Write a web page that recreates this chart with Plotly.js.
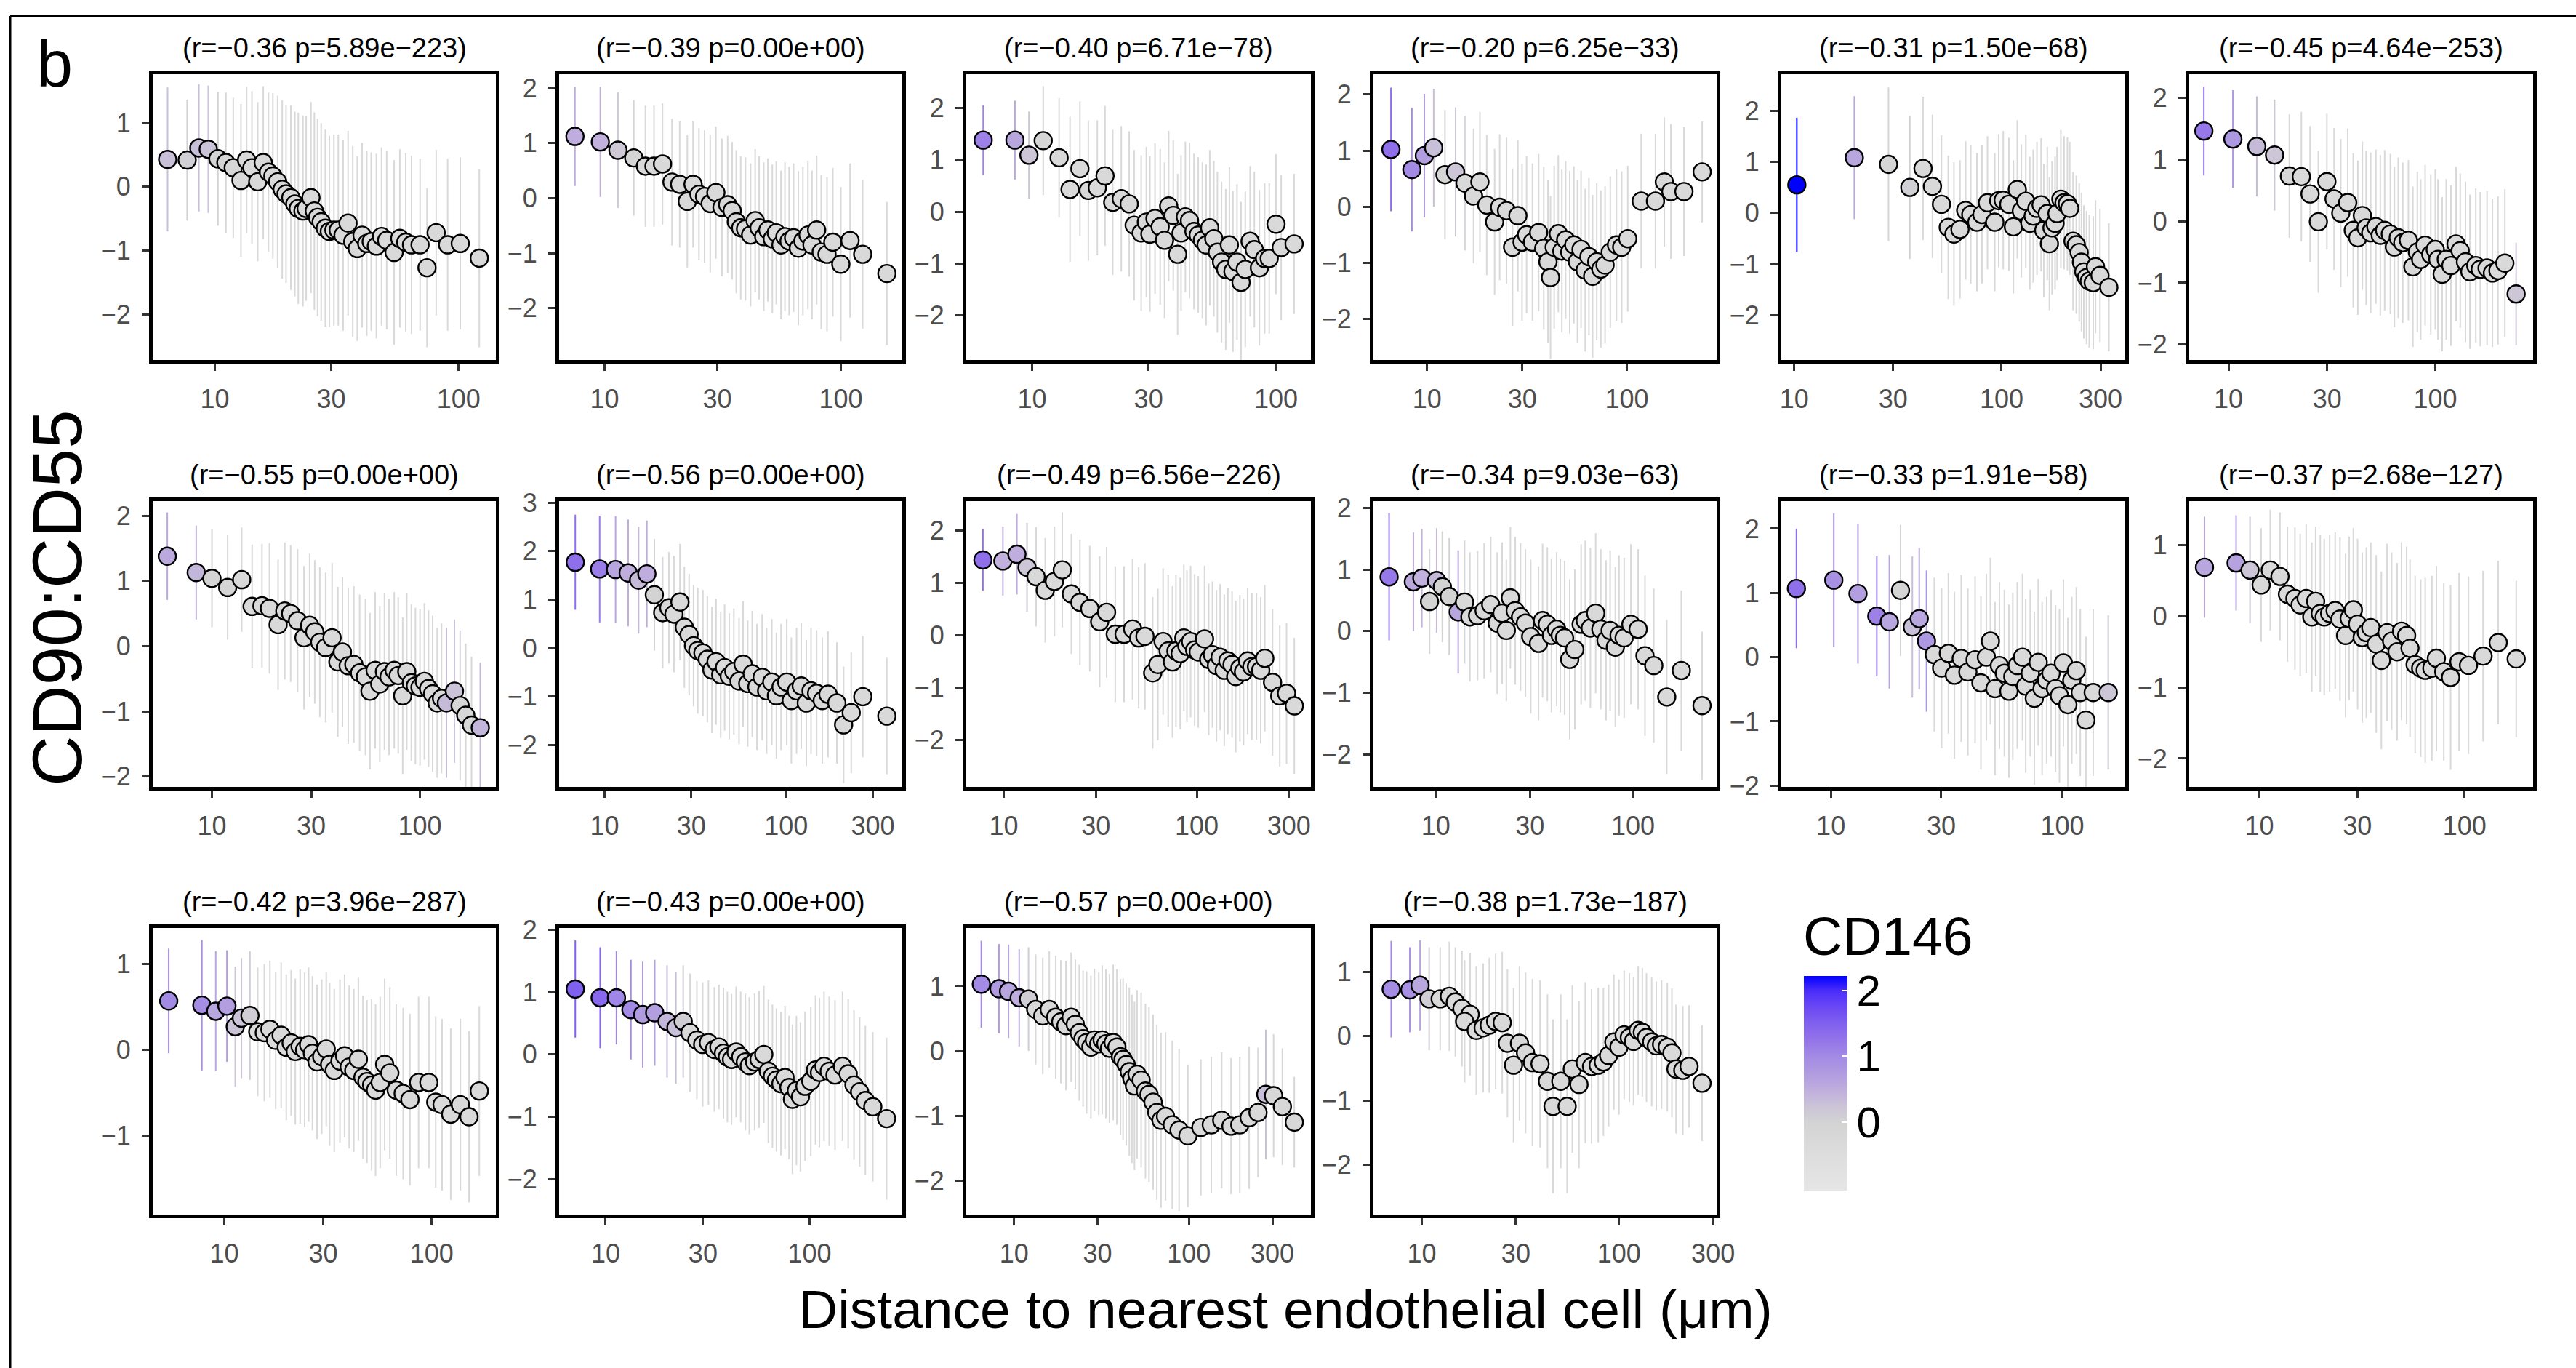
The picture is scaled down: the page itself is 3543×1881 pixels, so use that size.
<!DOCTYPE html>
<html><head><meta charset="utf-8">
<script src="https://cdn.plot.ly/plotly-3.0.1.min.js"></script>
<style>html,body{margin:0;padding:0;background:#fff;}#chart{width:3543px;height:1881px;}</style>
</head><body><div id="chart"></div>
<script>
// ---------- DATA (distance in µm, CD90:CD55 mean, SD, CD146 mean) ----------
const titles = ["(r=\u22120.36 p=5.89e\u2212223)","(r=\u22120.39 p=0.00e+00)","(r=\u22120.40 p=6.71e\u221278)","(r=\u22120.20 p=6.25e\u221233)","(r=\u22120.31 p=1.50e\u221268)","(r=\u22120.45 p=4.64e\u2212253)",
"(r=\u22120.55 p=0.00e+00)","(r=\u22120.56 p=0.00e+00)","(r=\u22120.49 p=6.56e\u2212226)","(r=\u22120.34 p=9.03e\u221263)","(r=\u22120.33 p=1.91e\u221258)","(r=\u22120.37 p=2.68e\u2212127)",
"(r=\u22120.42 p=3.96e\u2212287)","(r=\u22120.43 p=0.00e+00)","(r=\u22120.57 p=0.00e+00)","(r=\u22120.38 p=1.73e\u2212187)"];

const p1x=[6.4,7.7,8.6,9.4,10.3,11.1,11.9,12.8,13.5,14.2,15.0,15.8,16.6,17.3,18.1,18.9,19.6,20.5,21.3,22.0,23.0,23.7,24.8,25.6,26.4,27.3,28.4,29.5,30.8,32.1,33.6,35.2,36.8,38.4,40.2,42.0,43.8,46.0,48.3,50.7,54.4,57.4,60.7,64.1,69.5,74.2,80.9,90.2,101.6,121.6];
const p1y=[0.43,0.42,0.61,0.59,0.44,0.38,0.30,0.10,0.42,0.30,0.08,0.38,0.23,0.17,0.08,-0.04,-0.11,-0.17,-0.27,-0.34,-0.38,-0.34,-0.17,-0.38,-0.48,-0.55,-0.65,-0.70,-0.68,-0.68,-0.76,-0.57,-0.86,-0.97,-0.76,-0.89,-0.86,-0.93,-0.78,-0.84,-1.03,-0.81,-0.87,-0.91,-0.91,-1.27,-0.72,-0.91,-0.89,-1.12];
const p1sd=[1.13,0.95,1.0,1.0,1.05,1.1,1.1,1.2,1.15,1.2,1.25,1.2,1.25,1.3,1.35,1.4,1.4,1.45,1.45,1.5,1.5,1.45,1.5,1.55,1.55,1.55,1.55,1.5,1.5,1.5,1.5,1.45,1.5,1.45,1.45,1.45,1.4,1.45,1.4,1.4,1.45,1.4,1.4,1.4,1.35,1.25,1.3,1.35,1.35,1.4];
const p1c=[0.3,0.05,0.3,0.25,0.0,-0.1,-0.2,-0.3,-0.3,-0.3,
-0.3,-0.3,-0.3,-0.3,-0.3,-0.3,-0.3,-0.3,-0.3,-0.3,
-0.3,-0.3,-0.3,-0.3,-0.3,-0.3,-0.3,-0.3,-0.3,-0.3,
-0.3,-0.3,-0.3,-0.3,-0.3,-0.3,-0.3,-0.3,-0.3,-0.3,
-0.3,-0.3,-0.3,-0.3,-0.3,-0.3,-0.3,-0.3,-0.3,-0.3];

const p2x=[7.5,9.6,11.4,13.3,14.9,16.2,17.6,19.3,20.8,22.4,23.7,25.1,26.5,28.0,29.6,31.4,33.2,34.7,36.1,37.7,39.5,41.5,43.4,45.1,47.2,49.1,51.3,53.3,55.8,58.0,60.4,63.1,66.1,69.1,72.6,75.5,79.0,82.6,87.4,92.5,100,109.4,123.7,156.6];
const p2y=[1.12,1.02,0.87,0.73,0.58,0.58,0.62,0.29,0.25,-0.06,0.25,0.07,0.03,-0.10,0.10,-0.17,-0.12,-0.23,-0.43,-0.54,-0.56,-0.67,-0.41,-0.54,-0.70,-0.58,-0.74,-0.63,-0.85,-0.70,-0.78,-0.72,-0.91,-0.78,-0.67,-0.85,-0.58,-0.98,-1.02,-0.80,-1.20,-0.77,-1.02,-1.37];
const p2sd=[0.9,1.0,1.05,1.05,1.1,1.1,1.1,1.15,1.15,1.2,1.15,1.2,1.2,1.25,1.2,1.25,1.25,1.25,1.3,1.3,1.3,1.3,1.3,1.3,1.35,1.3,1.35,1.3,1.35,1.35,1.35,1.35,1.4,1.35,1.35,1.35,1.35,1.4,1.4,1.35,1.4,1.4,1.35,1.3];
const p2c=[0.5,0.45,0.15,-0.1,-0.3,-0.3,-0.3,-0.3,-0.3,-0.3,
-0.3,-0.3,-0.3,-0.3,-0.3,-0.3,-0.3,-0.3,-0.3,-0.3,
-0.3,-0.3,-0.3,-0.3,-0.3,-0.3,-0.3,-0.3,-0.3,-0.3,
-0.3,-0.3,-0.3,-0.3,-0.3,-0.3,-0.3,-0.3,-0.3,-0.3,
-0.3,-0.3,-0.3,-0.3];

const p3x=[6.3,8.5,9.7,11.1,12.9,14.3,15.7,17.0,18.5,19.9,21.4,23.2,25.0,26.2,28.0,29.4,30.4,31.9,33.5,34.9,36.3,37.9,39.5,40.8,42.5,44.2,46.1,48.0,49.9,51.7,53.5,55.6,57.5,59.8,62.2,64.4,66.6,69.2,71.9,74.8,78.3,81.5,85.5,89.8,93.8,100,105,118.6];
const p3y=[1.38,1.38,1.09,1.37,1.04,0.43,0.83,0.41,0.46,0.69,0.18,0.25,0.15,-0.26,-0.41,-0.20,-0.43,-0.13,-0.29,-0.55,0.11,-0.07,-0.82,-0.41,-0.10,-0.17,-0.38,-0.45,-0.55,-0.64,-0.31,-0.52,-0.78,-0.97,-1.11,-0.64,-1.15,-0.97,-1.36,-1.11,-0.57,-0.73,-1.08,-0.90,-0.90,-0.24,-0.69,-0.62];
const p3sd=[0.67,0.76,0.84,1.05,1.15,1.4,1.3,1.35,1.3,1.35,1.4,1.4,1.4,1.45,1.5,1.45,1.5,1.45,1.5,1.5,1.45,1.45,1.55,1.5,1.45,1.5,1.5,1.5,1.5,1.55,1.5,1.5,1.55,1.55,1.55,1.5,1.55,1.5,1.55,1.5,1.45,1.5,1.5,1.45,1.45,1.35,1.4,1.35];
const p3c=[1.1,0.6,0.2,-0.1,-0.3,-0.3,-0.3,-0.3,-0.3,-0.3,
-0.3,-0.3,-0.3,-0.3,-0.3,-0.3,-0.3,-0.3,-0.3,-0.3,
-0.3,-0.3,-0.3,-0.3,-0.3,-0.3,-0.3,-0.3,-0.3,-0.3,
-0.3,-0.3,-0.3,-0.3,-0.3,-0.3,-0.3,-0.3,-0.3,-0.3,
-0.3,-0.3,-0.3,-0.3,-0.3,-0.3,-0.3,-0.3];

const p4x=[6.6,8.4,9.7,10.8,12.3,13.9,15.5,17.1,18.4,19.9,21.8,23.1,25.0,26.8,28.5,29.9,31.5,33.7,36.2,38.4,40.3,41.5,43.3,45.4,47.3,49.4,51.8,54.3,56.6,59.0,61.9,64.6,67.4,70.7,74.1,77.8,82.6,88.7,94.2,101,118,139,154,166,193,238];
const p4y=[1.02,0.66,0.91,1.05,0.57,0.62,0.42,0.19,0.44,0.03,-0.27,-0.01,-0.07,-0.72,-0.16,-0.63,-0.50,-0.63,-0.46,-0.74,-0.98,-1.26,-0.72,-0.48,-0.79,-0.59,-0.81,-0.68,-0.98,-0.76,-1.13,-0.89,-1.24,-0.98,-1.11,-1.04,-0.81,-0.68,-0.72,-0.57,0.10,0.10,0.44,0.27,0.27,0.62];
const p4sd=[1.1,1.1,1.1,1.05,1.15,1.15,1.2,1.2,1.25,1.25,1.3,1.3,1.3,1.4,1.35,1.4,1.4,1.4,1.4,1.45,1.45,1.45,1.45,1.4,1.45,1.4,1.45,1.4,1.45,1.4,1.45,1.4,1.45,1.4,1.4,1.4,1.35,1.35,1.35,1.3,1.2,1.2,1.15,1.2,1.15,0.9];
const p4c=[1.3,1.0,0.7,0.3,-0.1,0.2,-0.3,-0.3,-0.3,-0.3,
-0.3,-0.3,-0.3,-0.3,-0.3,-0.3,-0.3,-0.3,-0.3,-0.3,
-0.3,-0.3,-0.3,-0.3,-0.3,-0.3,-0.3,-0.3,-0.3,-0.3,
-0.3,-0.3,-0.3,-0.3,-0.3,-0.3,-0.3,-0.3,-0.3,-0.3,
-0.3,-0.3,-0.3,-0.3,-0.3,-0.3];

const p5x=[10.3,19.5,28.5,36.1,41.8,46.4,51.3,55.3,58.9,63.0,67.1,71.0,76.0,80.4,85.5,92.7,96.8,101.8,108.4,114,119,124.5,130.8,136.8,142,148,155,159.7,166,170,175,181,185,193,200,207.6,213,221,229,236.6,242.6,249,256.6,264.6,276.6,283.6,298,329];
const p5y=[0.55,1.08,0.95,0.50,0.87,0.52,0.17,-0.28,-0.41,-0.32,0.05,-0.03,-0.18,-0.03,0.20,-0.18,0.24,0.25,0.17,-0.27,0.46,0.04,0.23,-0.20,-0.06,0.09,0.16,-0.34,-0.01,-0.60,-0.29,-0.20,-0.01,0.27,0.20,0.18,0.09,-0.55,-0.62,-0.77,-0.96,-1.15,-1.26,-1.33,-1.36,-1.05,-1.22,-1.45];
const p5sd=[1.31,1.2,1.5,1.4,1.4,1.4,1.35,1.4,1.4,1.35,1.35,1.35,1.35,1.35,1.3,1.35,1.3,1.35,1.3,1.3,1.35,1.3,1.3,1.3,1.3,1.3,1.3,1.3,1.3,1.3,1.3,1.3,1.3,1.35,1.3,1.3,1.3,1.35,1.35,1.35,1.35,1.3,1.3,1.3,1.3,1.3,1.3,1.25];
const p5c=[2.25,0.6,-0.1,0.05,-0.3,-0.3,-0.3,-0.3,-0.3,-0.3,
-0.3,-0.3,-0.3,-0.3,-0.3,-0.3,-0.3,-0.3,-0.3,-0.3,
-0.3,-0.3,-0.3,-0.3,-0.3,-0.3,-0.3,-0.3,-0.3,-0.3,
-0.3,-0.3,-0.3,-0.3,-0.3,-0.3,-0.3,-0.3,-0.3,-0.3,
-0.3,-0.3,-0.3,-0.3,-0.3,-0.3,-0.3,-0.3];

const p6x=[7.6,10.5,13.7,16.7,19.7,22.5,24.8,27.2,29.9,32.4,34.9,37.7,40.1,42.2,44.4,46.3,48.7,51.6,54.2,56.9,60.6,63.4,66.2,69.6,74.1,77.9,81.9,85.0,89.3,95.1,100,103,108,113,119,126,132,140,147,157,165,178,189,201,217,246];
const p6y=[1.46,1.33,1.21,1.07,0.73,0.72,0.44,-0.01,0.64,0.36,0.13,0.30,-0.15,-0.27,0.09,-0.11,-0.19,-0.09,-0.23,-0.15,-0.21,-0.42,-0.27,-0.35,-0.31,-0.74,-0.50,-0.62,-0.39,-0.54,-0.46,-0.62,-0.86,-0.62,-0.72,-0.37,-0.48,-0.66,-0.82,-0.72,-0.78,-0.76,-0.84,-0.80,-0.68,-1.18];
const p6sd=[0.72,0.79,0.81,0.9,1.0,1.05,1.1,1.15,1.1,1.15,1.2,1.2,1.25,1.25,1.2,1.25,1.3,1.25,1.3,1.3,1.3,1.3,1.3,1.3,1.3,1.3,1.3,1.3,1.3,1.3,1.3,1.3,1.25,1.3,1.3,1.25,1.25,1.3,1.25,1.25,1.25,1.25,1.2,1.2,1.2,0.83];
const p6c=[1.2,0.8,0.35,0.2,-0.2,-0.3,-0.3,-0.3,-0.3,-0.3,
-0.3,-0.3,-0.3,-0.3,-0.3,-0.3,-0.3,-0.3,-0.3,-0.3,
-0.3,-0.3,-0.3,-0.3,-0.3,-0.3,-0.3,-0.3,-0.3,-0.3,
-0.3,-0.3,-0.3,-0.3,-0.3,-0.3,-0.3,-0.3,-0.3,-0.3,
-0.3,-0.3,-0.3,-0.3,-0.3,0.2];

const p7x=[6.1,8.4,10.0,11.9,13.9,15.6,17.4,18.9,20.8,22.4,23.9,25.8,27.7,29.5,31.2,33.0,35.2,37.8,40.3,42.4,45.2,48.1,51.3,54.7,57.5,60.9,64.1,67.5,71.0,75.2,78.6,82.6,86.4,90.9,95.1,100,105,110,115,121,127,134,146.5,156,166,177,195];
const p7y=[1.38,1.13,1.04,0.90,1.02,0.61,0.62,0.58,0.33,0.54,0.50,0.39,0.13,0.32,0.22,0.06,-0.02,0.13,-0.24,-0.09,-0.30,-0.28,-0.41,-0.47,-0.69,-0.37,-0.58,-0.39,-0.47,-0.37,-0.45,-0.76,-0.39,-0.56,-0.61,-0.63,-0.54,-0.65,-0.73,-0.87,-0.80,-0.87,-0.69,-0.91,-1.06,-1.21,-1.25];
const p7sd=[0.67,0.72,0.75,0.8,0.8,0.95,0.95,1.0,1.0,1.05,1.05,1.1,1.1,1.1,1.1,1.15,1.15,1.15,1.15,1.15,1.2,1.2,1.2,1.2,1.2,1.2,1.2,1.2,1.2,1.2,1.2,1.2,1.2,1.2,1.2,1.2,1.2,1.2,1.2,1.15,1.15,1.15,1.1,1.15,1.1,1.05,1.0];
const p7c=[0.55,0.4,0.0,-0.1,-0.3,-0.3,-0.3,-0.3,-0.3,-0.3,
-0.3,-0.3,-0.3,-0.3,-0.3,-0.3,-0.3,-0.3,-0.3,-0.3,
-0.3,-0.3,-0.3,-0.3,-0.3,-0.3,-0.3,-0.3,-0.3,-0.3,
-0.3,-0.3,-0.3,-0.3,-0.3,-0.3,-0.3,-0.3,-0.3,-0.3,
-0.3,0.35,0.25,-0.2,-0.2,-0.2,0.4];

const p8x=[6.9,9.4,11.5,13.5,15.4,17.1,18.8,20.9,22.6,24.1,26.0,27.5,29.2,30.9,32.6,34.8,36.8,39.0,41.1,43.6,45.8,48.6,51.5,55.0,57.9,61.4,65.0,69.0,73.7,78.0,83.3,88.3,93.7,100.7,106.7,114,121,129,137,147,158,170,190,207,228,264,358];
const p8y=[1.77,1.63,1.62,1.55,1.40,1.53,1.10,0.73,0.83,0.70,0.95,0.43,0.28,0.05,-0.05,-0.10,-0.23,-0.45,-0.28,-0.55,-0.40,-0.58,-0.48,-0.68,-0.33,-0.73,-0.53,-0.80,-0.60,-0.88,-0.70,-0.98,-0.80,-0.70,-1.08,-0.88,-0.78,-1.13,-0.88,-0.93,-1.08,-0.95,-1.13,-1.58,-1.33,-1.00,-1.40];
const p8sd=[0.98,1.1,1.1,1.1,1.1,1.1,1.15,1.15,1.15,1.2,1.2,1.25,1.25,1.25,1.3,1.3,1.3,1.3,1.3,1.3,1.3,1.3,1.3,1.3,1.3,1.3,1.3,1.3,1.3,1.3,1.3,1.3,1.3,1.3,1.3,1.3,1.3,1.3,1.3,1.3,1.3,1.3,1.25,1.2,1.25,1.25,1.2];
const p8c=[1.3,1.15,0.6,0.5,0.35,0.5,0.0,-0.3,-0.3,-0.3,
-0.3,-0.3,-0.3,-0.3,-0.3,-0.3,-0.3,-0.3,-0.3,-0.3,
-0.3,-0.3,-0.3,-0.3,-0.3,-0.3,-0.3,-0.3,-0.3,-0.3,
-0.3,-0.3,-0.3,-0.3,-0.3,-0.3,-0.3,-0.3,-0.3,-0.3,
-0.3,-0.3,-0.3,-0.3,-0.3,-0.3,-0.3];

const p9x=[7.8,9.9,11.7,13.2,14.7,16.4,18.3,20.1,22.4,24.8,27.9,31.4,34.1,37.8,42.0,46.5,50.0,53.9,59.1,62.9,66.9,71.1,74.8,78.0,82.0,85.7,88.9,92.9,97.5,101.8,109.7,115.3,120.5,126.5,132.1,138.8,144.9,152.3,159.1,167.2,174.6,183.4,192.8,203.8,214.4,225,246.8,269,291.7,320];
const p9y=[1.44,1.42,1.55,1.30,1.12,0.86,1.03,1.25,0.79,0.63,0.51,0.26,0.44,0.02,0.02,0.12,-0.05,-0.02,-0.72,-0.56,-0.12,-0.30,-0.51,-0.30,-0.35,-0.05,-0.21,-0.12,-0.28,-0.32,-0.07,-0.46,-0.37,-0.58,-0.42,-0.67,-0.49,-0.56,-0.79,-0.63,-0.70,-0.49,-0.60,-0.60,-0.67,-0.44,-0.90,-1.16,-1.11,-1.35];
const p9sd=[0.59,0.66,0.77,0.85,0.95,1.0,1.05,1.1,1.15,1.2,1.2,1.25,1.25,1.3,1.3,1.35,1.35,1.4,1.45,1.45,1.4,1.45,1.45,1.45,1.45,1.4,1.45,1.45,1.45,1.45,1.4,1.45,1.4,1.45,1.4,1.45,1.4,1.4,1.45,1.4,1.4,1.4,1.4,1.4,1.4,1.4,1.4,1.35,1.35,1.3];
const p9c=[1.3,0.45,0.5,0.2,-0.3,-0.3,-0.3,-0.3,-0.3,-0.3,
-0.3,-0.3,-0.3,-0.3,-0.3,-0.3,-0.3,-0.3,-0.3,-0.3,
-0.3,-0.3,-0.3,-0.3,-0.3,-0.3,-0.3,-0.3,-0.3,-0.3,
-0.3,-0.3,-0.3,-0.3,-0.3,-0.3,-0.3,-0.3,-0.3,-0.3,
-0.3,-0.3,-0.3,-0.3,-0.3,-0.3,-0.3,-0.3,-0.3,-0.3];

const p10x=[5.8,7.7,8.5,9.3,10.1,10.8,11.7,13.0,14.0,14.9,16.3,17.6,19.0,20.5,21.7,22.8,23.9,25.3,26.9,28.5,30.3,33.2,34.8,36.8,38.6,41.0,42.8,45.0,47.8,50.7,54.6,57.3,60.8,64.7,68.7,73.0,76.6,81.4,85.0,90.2,97.6,106.2,115,127.5,148.3,175.8,223.9];
const p10y=[0.88,0.80,0.86,0.48,0.82,0.72,0.56,0.31,0.47,0.23,0.25,0.33,0.43,0.13,0.29,0.01,0.54,0.33,0.23,0.13,-0.09,-0.20,0.17,0.11,-0.07,0.03,-0.07,-0.11,-0.46,-0.30,0.11,0.17,0.05,0.29,0.03,-0.15,0.01,-0.26,-0.07,-0.11,0.11,0.03,-0.40,-0.56,-1.07,-0.64,-1.21];
const p10sd=[1.03,0.8,0.8,0.85,0.85,0.9,0.95,1.0,1.0,1.05,1.05,1.1,1.1,1.15,1.15,1.15,1.15,1.2,1.2,1.2,1.25,1.25,1.25,1.25,1.25,1.25,1.25,1.25,1.3,1.3,1.3,1.3,1.3,1.3,1.3,1.3,1.3,1.3,1.3,1.3,1.3,1.3,1.3,1.25,1.25,1.3,1.2];
const p10c=[1.2,0.55,0.45,0.0,0.35,0.0,0.0,0.6,-0.3,-0.3,
-0.3,-0.3,-0.3,-0.3,-0.3,-0.3,-0.3,-0.3,-0.3,-0.3,
-0.3,-0.3,-0.3,-0.3,-0.3,-0.3,-0.3,-0.3,-0.3,-0.3,
-0.3,-0.3,-0.3,-0.3,-0.3,-0.3,-0.3,-0.3,-0.3,-0.3,
-0.3,-0.3,-0.3,-0.3,-0.3,-0.3,-0.3];

const p11x=[7.1,10.3,13.1,15.8,17.9,20.0,22.5,24.1,25.9,28.0,30.1,32.2,34.2,36.6,39.1,42.0,44.5,47.0,48.9,51.2,53.5,56.2,58.8,61.1,63.9,67.3,69.5,72.7,75.7,78.7,81.8,85.6,89.4,93.5,97.2,101.1,105.7,109.9,115,119.6,126.5,136,158];
const p11y=[1.07,1.20,0.99,0.64,0.55,1.04,0.47,0.60,0.25,0.04,-0.17,0.06,-0.28,-0.02,-0.23,-0.04,-0.40,0.00,0.25,-0.49,-0.13,-0.25,-0.53,-0.30,-0.13,0.00,-0.45,-0.25,-0.64,-0.08,-0.49,-0.36,-0.25,-0.49,-0.60,-0.09,-0.74,-0.36,-0.21,-0.55,-0.98,-0.55,-0.55];
const p11sd=[0.93,1.04,1.09,0.94,1.04,1.02,1.1,1.1,1.1,1.2,1.25,1.25,1.3,1.3,1.3,1.3,1.35,1.3,1.3,1.35,1.3,1.3,1.35,1.3,1.3,1.3,1.35,1.3,1.35,1.3,1.35,1.3,1.3,1.3,1.35,1.3,1.35,1.3,1.3,1.3,1.3,1.3,1.2];
const p11c=[1.3,0.9,0.7,1.1,0.6,-0.1,0.3,0.6,0.8,-0.3,
-0.3,-0.3,-0.3,-0.3,-0.3,-0.3,-0.3,-0.3,-0.3,-0.3,
-0.3,-0.3,-0.3,-0.3,-0.3,-0.3,-0.3,-0.3,-0.3,-0.3,
-0.3,-0.3,-0.3,-0.3,-0.3,-0.3,-0.3,-0.3,-0.3,-0.3,
-0.3,-0.3,0.2];

const p12x=[5.4,7.7,9.0,10.2,11.3,12.6,13.7,14.9,15.8,16.9,18.0,18.8,19.8,20.7,22.0,23.4,24.7,26.3,27.4,28.7,30.1,31.7,33.2,34.9,37.1,39.3,41.9,44.1,46.9,49.3,52.2,54.2,57.4,61.1,64.3,69.3,72.9,79.2,85.5,94.0,104.5,123.1,145.9,178.5];
const p12y=[0.69,0.75,0.65,0.44,0.65,0.56,0.31,0.25,0.16,0.25,-0.01,0.21,0.04,-0.01,0.04,0.08,-0.04,-0.27,-0.03,0.09,-0.11,-0.30,-0.23,-0.16,-0.39,-0.62,-0.23,-0.35,-0.50,-0.21,-0.27,-0.45,-0.68,-0.73,-0.76,-0.73,-0.59,-0.78,-0.86,-0.64,-0.69,-0.56,-0.37,-0.60];
const p12sd=[0.71,0.67,0.75,0.8,0.85,0.9,0.95,1.0,1.0,1.05,1.05,1.05,1.1,1.1,1.1,1.1,1.15,1.15,1.15,1.15,1.2,1.2,1.2,1.2,1.25,1.25,1.25,1.25,1.25,1.25,1.25,1.25,1.25,1.25,1.3,1.3,1.3,1.25,1.3,1.25,1.25,1.2,1.15,1.1];
const p12c=[0.6,0.65,0.2,-0.3,-0.3,-0.3,-0.3,-0.3,-0.3,-0.3,
-0.3,-0.3,-0.3,-0.3,-0.3,-0.3,-0.3,-0.3,-0.3,-0.3,
-0.3,-0.3,-0.3,-0.3,-0.3,-0.3,-0.3,-0.3,-0.3,-0.3,
-0.3,-0.3,-0.3,-0.3,-0.3,-0.3,-0.3,-0.3,-0.3,-0.3,
-0.3,-0.3,-0.3,-0.3];

const p13x=[5.4,7.8,9.1,10.3,11.3,12.1,13.3,14.5,15.6,16.6,17.7,18.8,19.9,21.0,22.0,23.2,24.4,25.5,26.6,28.0,29.5,31.0,32.2,33.9,36.1,38.0,40.0,42.1,44.3,46.6,48.7,51.3,53.6,56.4,59.3,62.8,67.4,72.8,78.5,86.4,96.8,104.5,112.1,123.4,137.4,151.2,169.5];
const p13y=[0.57,0.52,0.45,0.51,0.27,0.37,0.40,0.21,0.20,0.24,0.11,0.17,0.03,0.08,-0.02,0.04,0.00,0.06,-0.04,-0.14,-0.08,0.01,-0.17,-0.24,-0.13,-0.07,-0.20,-0.24,-0.11,-0.32,-0.37,-0.41,-0.47,-0.38,-0.17,-0.27,-0.47,-0.51,-0.58,-0.38,-0.38,-0.61,-0.64,-0.75,-0.64,-0.78,-0.48];
const p13sd=[0.61,0.76,0.7,0.65,0.7,0.7,0.75,0.75,0.8,0.8,0.8,0.85,0.85,0.85,0.85,0.9,0.9,0.9,0.9,0.9,0.9,0.9,0.95,0.95,0.95,0.95,0.95,0.95,0.95,0.95,0.95,1.0,1.0,1.0,1.0,1.0,1.0,1.0,1.0,1.0,1.0,1.0,1.0,1.0,1.0,1.0,0.99];
const p13c=[1.0,0.95,0.6,0.7,0.25,0.25,0.1,-0.3,-0.3,-0.3,
-0.3,-0.3,-0.3,-0.3,-0.3,-0.3,-0.3,-0.3,-0.3,-0.3,
-0.3,-0.3,-0.3,-0.3,-0.3,-0.3,-0.3,-0.3,-0.3,-0.3,
-0.3,-0.3,-0.3,-0.3,-0.3,-0.3,-0.3,-0.3,-0.3,-0.3,
-0.3,-0.3,-0.3,-0.3,-0.3,-0.3,-0.3];

const p14x=[7.1,9.4,11.3,13.3,15.2,17.4,20.0,22.1,24.0,25.9,28.0,29.9,31.9,34.1,35.9,37.8,39.5,41.4,43.6,45.9,48.4,50.6,53.7,56.5,59.6,62.7,65.7,68.7,72.3,75.7,79.2,82.3,86.1,90.1,94.9,101.3,106.8,111.7,117.6,124.7,133.1,144.9,154.5,164.9,175.8,187.6,204,238.3];
const p14y=[1.05,0.91,0.91,0.72,0.64,0.67,0.53,0.43,0.53,0.35,0.23,0.16,0.19,0.08,0.12,0.02,-0.04,-0.08,0.04,-0.04,-0.12,-0.18,-0.12,-0.08,0.00,-0.27,-0.35,-0.41,-0.47,-0.37,-0.53,-0.72,-0.58,-0.68,-0.51,-0.43,-0.25,-0.29,-0.19,-0.27,-0.33,-0.19,-0.31,-0.49,-0.60,-0.74,-0.84,-1.03];
const p14sd=[0.78,0.81,0.75,0.8,0.85,0.85,0.9,0.9,0.9,0.95,0.95,1.0,1.0,1.0,1.0,1.05,1.05,1.05,1.05,1.05,1.1,1.1,1.1,1.1,1.1,1.15,1.15,1.15,1.15,1.15,1.15,1.2,1.2,1.2,1.2,1.2,1.2,1.2,1.2,1.2,1.2,1.2,1.2,1.2,1.2,1.2,1.2,1.3];
const p14c=[1.5,1.4,1.05,1.0,0.75,0.7,0.4,0.3,0.1,-0.3,
-0.3,-0.3,-0.3,-0.3,-0.3,-0.3,-0.3,-0.3,-0.3,-0.3,
-0.3,-0.3,-0.3,-0.3,-0.3,-0.3,-0.3,-0.3,-0.3,-0.3,
-0.3,-0.3,-0.3,-0.3,-0.3,-0.3,-0.3,-0.3,-0.3,-0.3,
-0.3,-0.3,-0.3,-0.3,-0.3,-0.3,-0.3,-0.3];

const p15x=[6.5,8.2,9.3,10.7,12.1,13.3,14.6,15.9,17.3,18.5,19.8,21.2,22.4,23.6,24.8,26.0,27.5,28.8,30.5,31.9,33.5,35.1,36.9,38.7,40.6,42.0,43.8,45.6,47.2,48.8,50.5,53.3,56.4,59.1,62.4,65.5,69.2,73.5,80.3,87.8,98.6,117,134.2,153.9,174,195.3,220.9,248.1,274.9,304.6,342,400];
const p15y=[1.03,0.96,0.92,0.82,0.80,0.64,0.54,0.64,0.52,0.45,0.39,0.52,0.41,0.28,0.19,0.13,0.06,0.17,0.11,0.17,0.11,0.04,0.13,0.06,-0.09,-0.13,-0.21,-0.32,-0.43,-0.54,-0.36,-0.45,-0.62,-0.67,-0.79,-0.95,-1.07,-1.01,-1.14,-1.22,-1.31,-1.18,-1.14,-1.07,-1.16,-1.14,-1.03,-0.95,-0.67,-0.69,-0.86,-1.10];
const p15sd=[0.67,0.69,0.72,0.75,0.8,0.85,0.9,0.9,0.95,0.95,1.0,1.0,1.0,1.05,1.05,1.1,1.1,1.1,1.1,1.15,1.15,1.15,1.2,1.2,1.2,1.25,1.25,1.3,1.3,1.3,1.3,1.35,1.35,1.35,1.35,1.35,1.35,1.3,1.3,1.25,1.1,1.05,1.05,1.05,1.05,1.05,1.1,1.0,1.0,0.95,0.9,0.7];
const p15c=[1.0,0.75,0.6,0.5,0.1,-0.3,-0.3,-0.3,-0.3,-0.3,
-0.3,-0.3,-0.3,-0.3,-0.3,-0.3,-0.3,-0.3,-0.3,-0.3,
-0.3,-0.3,-0.3,-0.3,-0.3,-0.3,-0.3,-0.3,-0.3,-0.3,
-0.3,-0.3,-0.3,-0.3,-0.3,-0.3,-0.3,-0.3,-0.3,-0.3,
-0.3,-0.3,-0.3,-0.3,-0.3,-0.3,-0.3,-0.3,0.3,-0.2,
-0.2,-0.2];

const p16x=[7.0,8.7,9.8,10.9,12.4,13.8,14.8,16.0,17.6,16.5,18.9,20.5,22.0,23.7,25.6,27.2,29.2,31.3,33.6,36.4,39.8,43.4,46.3,50.7,54.6,58.0,62.7,67.5,72.6,78.5,83.4,88.6,94.2,100,106.2,112.9,118.5,125.1,131.3,137.8,146.5,154.6,164.4,175.8,185.5,194.6,210.7,226.6,263.6];
const p16y=[0.73,0.72,0.79,0.58,0.58,0.62,0.53,0.43,0.34,0.23,0.09,0.13,0.17,0.23,0.21,-0.11,-0.45,-0.11,-0.26,-0.41,-0.43,-0.70,-1.09,-0.70,-1.09,-0.51,-0.75,-0.41,-0.47,-0.45,-0.40,-0.30,-0.09,-0.17,0.02,-0.02,-0.08,0.09,0.06,-0.02,-0.09,-0.15,-0.13,-0.17,-0.26,-0.51,-0.53,-0.47,-0.73];
const p16sd=[0.75,0.66,0.7,0.8,0.8,0.85,0.85,0.9,0.95,0.95,1.0,1.0,1.05,1.05,1.1,1.15,1.2,1.2,1.25,1.3,1.3,1.35,1.35,1.35,1.35,1.3,1.3,1.25,1.2,1.2,1.15,1.1,1.05,1.05,1.0,1.0,1.0,1.0,1.0,1.0,1.0,1.0,1.0,1.0,1.0,1.0,1.0,0.95,0.9];
const p16c=[0.95,0.9,0.6,0.1,-0.3,-0.3,-0.3,-0.3,-0.3,-0.3,
-0.3,-0.3,-0.3,-0.3,-0.3,-0.3,-0.3,-0.3,-0.3,-0.3,
-0.3,-0.3,-0.3,-0.3,-0.3,-0.3,-0.3,-0.3,-0.3,-0.3,
-0.3,-0.3,-0.3,-0.3,-0.3,-0.3,-0.3,-0.3,-0.3,-0.3,
-0.3,-0.3,-0.3,-0.3,-0.3,-0.3,-0.3,-0.3,-0.3];

const xTickVals=[10,30,100,300];
const cbTicks=[0,1,2];

// ---------- LAYOUT CONFIG ----------
const W=3543,H=1881;
const FONT='"Liberation Sans", Arial, Helvetica, sans-serif';
const colL=[210,769,1329,1889,2450,3011], colR=[682,1241,1803,2361,2923,3484];
const rowT=[102,689,1276], rowB=[495,1082,1670];
const xr=[[0.745,2.153],[0.808,2.26],[0.730,2.143],[0.732,2.449],[0.938,2.596],[0.810,2.473],
[0.715,2.365],[0.75,2.639],[0.806,2.591],[0.684,2.424],[0.786,2.272],[0.658,2.334],
[0.655,2.309],[0.772,2.454],[0.727,2.697],[0.755,2.495]];
const yr=[[-2.719,1.768],[-2.94,2.25],[-2.857,2.65],[-2.73,2.36],[-2.87,2.71],[-2.25,2.38],
[-2.158,2.225],[-2.86,3.03],[-2.90,2.566],[-2.53,2.11],[-2.02,2.43],[-2.40,1.62],
[-1.92,1.42],[-2.57,2.03],[-2.525,1.897],[-2.77,1.68]];

const panels=[[p1x,p1y,p1sd,p1c],[p2x,p2y,p2sd,p2c],[p3x,p3y,p3sd,p3c],[p4x,p4y,p4sd,p4c],[p5x,p5y,p5sd,p5c],[p6x,p6y,p6sd,p6c],
[p7x,p7y,p7sd,p7c],[p8x,p8y,p8sd,p8c],[p9x,p9y,p9sd,p9c],[p10x,p10y,p10sd,p10c],[p11x,p11y,p11sd,p11c],[p12x,p12y,p12sd,p12c],
[p13x,p13y,p13sd,p13c],[p14x,p14y,p14sd,p14c],[p15x,p15y,p15sd,p15c],[p16x,p16y,p16sd,p16c]];
const pos=[[0,0],[0,1],[0,2],[0,3],[0,4],[0,5],[1,0],[1,1],[1,2],[1,3],[1,4],[1,5],[2,0],[2,1],[2,2],[2,3]];

const cmin=-1.04,cmax=2.22;
const csVals=[-1.04,-0.5,0,0.25,0.5,0.75,1.0,1.25,1.5,1.75,2.0,2.22];
const csCols=['#E6E6E6','#DDDDDD','#D3D3D3','#CBC3D7','#BEADDD','#B09BE1','#A38AE5','#9474E9','#8060EE','#6A48F4','#4A2CFA','#0000FF'];
const colorscale=csVals.map((v,i)=>[(v-cmin)/(cmax-cmin),csCols[i]]);
function hex2rgb(h){return [parseInt(h.slice(1,3),16),parseInt(h.slice(3,5),16),parseInt(h.slice(5,7),16)];}
function colorAt(v){
  v=Math.max(cmin,Math.min(cmax,v));
  for(let i=0;i<csVals.length-1;i++){
    if(v<=csVals[i+1]){
      const t=(v-csVals[i])/(csVals[i+1]-csVals[i]);
      const a=hex2rgb(csCols[i]),b=hex2rgb(csCols[i+1]);
      const r=a.map((q,k)=>Math.round(q+(b[k]-q)*t));
      return 'rgb('+r.join(',')+')';
    }
  }
  return csCols[csCols.length-1];
}

const traces=[];const layout={
  width:W,height:H,margin:{l:0,r:0,t:0,b:0},paper_bgcolor:'#fff',plot_bgcolor:'#fff',
  showlegend:false,font:{family:FONT},annotations:[],shapes:[]
};

panels.forEach((p,i)=>{
  const [px,py,psd,pc]=p;
  const n=Math.min(px.length,py.length,psd.length,pc.length);
  const s=i===0?'':String(i+1);
  const [r,c]=pos[i];
  const groups={};
  for(let k=0;k<n;k++){
    const col=colorAt(pc[k]);
    if(!groups[col])groups[col]={x:[],y:[],e:[]};
    groups[col].x.push(px[k]);groups[col].y.push(py[k]);groups[col].e.push(psd[k]);
  }
  Object.keys(groups).forEach(col=>{
    const g=groups[col];
    traces.push({type:'scatter',mode:'markers',x:g.x,y:g.y,xaxis:'x'+s,yaxis:'y'+s,
      marker:{size:1,opacity:0},hoverinfo:'skip',
      error_y:{type:'data',array:g.e,symmetric:true,color:col,thickness:2,width:0}});
  });
  const mk={size:24,color:pc.slice(0,n),colorscale:colorscale,cmin:cmin,cmax:cmax,
    line:{color:'#000',width:2.4},showscale:i===0};
  if(i===0){
    mk.colorbar={x:2481/W,xanchor:'left',y:1-1489.5/H,yanchor:'middle',len:295,lenmode:'pixels',
      thickness:60,thicknessmode:'pixels',outlinewidth:0,tickvals:cbTicks,ticks:'inside',ticklen:8,
      tickcolor:'#ffffff',tickwidth:2,tickfont:{family:FONT,size:60,color:'#000'},xpad:0,ypad:0,ticklabelstandoff:6};
  }
  traces.push({type:'scatter',mode:'markers',x:px.slice(0,n),y:py.slice(0,n),xaxis:'x'+s,yaxis:'y'+s,marker:mk,
    hovertemplate:'%{x}, %{y}<extra></extra>'});

  const axCommon={showline:true,mirror:true,linecolor:'#000',linewidth:5,ticks:'outside',ticklen:10,tickwidth:3,
    tickcolor:'#333333',tickfont:{family:FONT,size:36,color:'#4D4D4D'},showgrid:false,zeroline:false,fixedrange:true,
    ticklabelstandoff:8};
  layout['xaxis'+s]=Object.assign({},axCommon,{domain:[colL[c]/W,colR[c]/W],anchor:'y'+s,type:'log',range:xr[i],
    tickvals:xTickVals,ticktext:xTickVals.map(String)});
  layout['yaxis'+s]=Object.assign({},axCommon,{domain:[1-rowB[r]/H,1-rowT[r]/H],anchor:'x'+s,range:yr[i],
    tick0:0,dtick:1});
  layout.annotations.push({xref:'paper',yref:'paper',x:(colL[c]+colR[c])/2/W,y:1-(rowT[r]-36)/H,
    xanchor:'center',yanchor:'middle',showarrow:false,text:titles[i],font:{family:FONT,size:38,color:'#000'}});
});

layout.annotations.push(
  {xref:'paper',yref:'paper',x:78/W,y:1-822/H,xanchor:'center',yanchor:'middle',showarrow:false,textangle:-90,
   text:'CD90:CD55',font:{family:FONT,size:96,color:'#000'}},
  {xref:'paper',yref:'paper',x:1768/W,y:1-1800/H,xanchor:'center',yanchor:'middle',showarrow:false,
   text:'Distance to nearest endothelial cell (\u03bcm)',font:{family:FONT,size:75,color:'#000'}},
  {xref:'paper',yref:'paper',x:75/W,y:1-88/H,xanchor:'center',yanchor:'middle',showarrow:false,
   text:'b',font:{family:FONT,size:90,color:'#000'}},
  {xref:'paper',yref:'paper',x:2478/W,y:1-1287/H,xanchor:'left',yanchor:'middle',showarrow:false,
   text:'CD146',font:{family:FONT,size:75,color:'#000'}}
);
layout.shapes.push(
  {type:'line',xref:'paper',yref:'paper',x0:14/W,x1:1,y0:1-22/H,y1:1-22/H,line:{color:'#000',width:2.5}},
  {type:'line',xref:'paper',yref:'paper',x0:14/W,x1:14/W,y0:0,y1:1-22/H,line:{color:'#000',width:3}}
);

Plotly.newPlot('chart',traces,layout,{displayModeBar:false,staticPlot:true});
</script></body></html>
